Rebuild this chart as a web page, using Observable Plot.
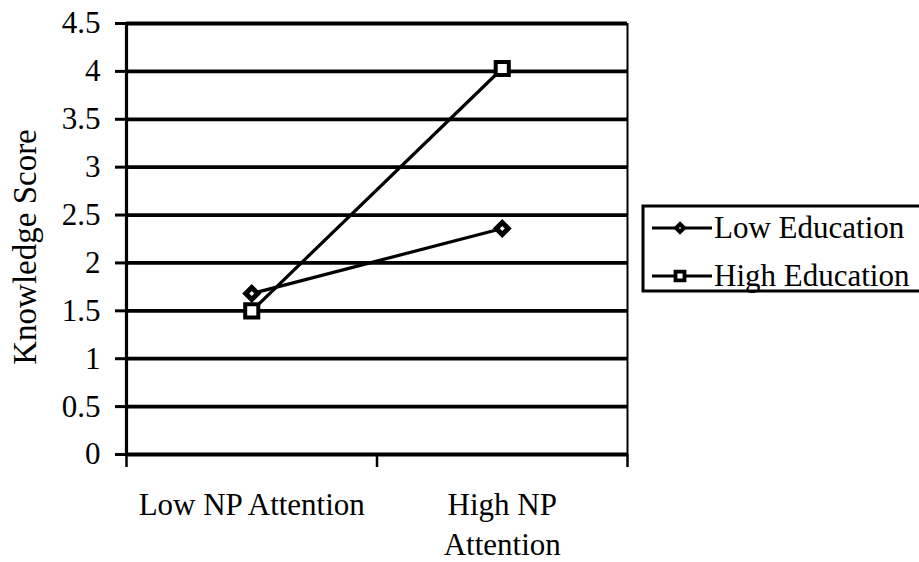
<!DOCTYPE html>
<html>
<head>
<meta charset="utf-8">
<script src="https://cdn.jsdelivr.net/npm/d3@7"></script>
<script src="https://cdn.jsdelivr.net/npm/@observablehq/plot@0.6"></script>
<style>
  html, body { margin: 0; padding: 0; background: white; overflow: hidden; }
  #wrap { position: relative; width: 919px; height: 562px; }
  #legend { position: absolute; left: 0; top: 0; }
</style>
</head>
<body>
<div id="wrap"></div>
<script>
// Knowledge score by newspaper attention, split by education level
const categories = ["Low NP Attention", "High NP Attention"];
const xTickLabels = ["Low NP Attention", "High NP\nAttention"];
const seriesNames = ["Low Education", "High Education"];
const lowEducation = [1.68, 2.36];
const highEducation = [1.50, 4.03];
const yTicks = [0, 0.5, 1, 1.5, 2, 2.5, 3, 3.5, 4, 4.5];

const FONT = "'Liberation Serif', 'Times New Roman', serif";
const FS = 31;

// Categories sit at the centres of two equal slots on a [0, 2] axis
const toRows = (values, name) =>
  values.map((v, i) => ({category: categories[i], pos: i + 0.5, score: v, series: name}));
const lowRows = toRows(lowEducation, seriesNames[0]);
const highRows = toRows(highEducation, seriesNames[1]);
const rows = [...lowRows, ...highRows];

const chart = Plot.plot({
  width: 919,
  height: 562,
  marginLeft: 126,
  marginRight: 292,
  marginTop: 23,
  marginBottom: 108,
  x: {domain: [0, 2]},
  y: {domain: [0, 4.5]},
  style: {fontFamily: FONT, fontSize: FS + "px", color: "black", background: "white"},
  marks: [
    Plot.ruleY(yTicks, {stroke: "black", strokeWidth: 3.8}),
    Plot.ruleX([0], {stroke: "black", strokeWidth: 3.2}),
    Plot.ruleX([2], {stroke: "black", strokeWidth: 2}),
    Plot.axisY({ticks: yTicks, tickSize: 11, tickPadding: 15, strokeWidth: 3,
                tickFormat: d => String(d), label: null, fontSize: FS}),
    Plot.axisX({ticks: [0, 1, 2], tickSize: 13, strokeWidth: 2.5,
                tickFormat: () => "", label: null}),
    Plot.axisX({ticks: [0.5, 1.5], tickSize: 0, tickPadding: 32, lineHeight: 1.29,
                tickFormat: d => xTickLabels[Math.floor(d)], label: null, fontSize: FS}),
    Plot.line(rows, {x: "pos", y: "score", z: "series", stroke: "black", strokeWidth: 3.2}),
    Plot.dot(lowRows, {x: "pos", y: "score", symbol: "diamond2", r: 5.4,
                       fill: "white", stroke: "black", strokeWidth: 5}),
    Plot.dot(highRows, {x: "pos", y: "score", symbol: "square", r: 7.4,
                        fill: "white", stroke: "black", strokeWidth: 4}),
    Plot.text(["Knowledge Score"], {frameAnchor: "left", textAnchor: "middle", rotate: -90,
                                    dx: -101, dy: 8, fontSize: 33, fill: "black"})
  ]
});

const wrap = document.getElementById("wrap");
wrap.appendChild(chart);

// Boxed legend to the right of the plot
const legend = d3.create("svg")
  .attr("id", "legend")
  .attr("width", 919)
  .attr("height", 562)
  .style("pointer-events", "none");
legend.append("rect")
  .attr("x", 643).attr("y", 206)
  .attr("width", 290).attr("height", 85)
  .attr("fill", "white").attr("stroke", "black").attr("stroke-width", 3);

const legendSymbols = [d3.symbolDiamond2, d3.symbolSquare];
const legendSizes = [40, 80];
const legendStroke = [4, 3.8];
seriesNames.forEach((name, i) => {
  const y = 228 + i * 48;
  const g = legend.append("g");
  g.append("line")
    .attr("x1", 652).attr("x2", 712).attr("y1", y).attr("y2", y)
    .attr("stroke", "black").attr("stroke-width", 3);
  g.append("path")
    .attr("transform", `translate(680,${y})`)
    .attr("d", d3.symbol(legendSymbols[i], legendSizes[i])())
    .attr("fill", "white").attr("stroke", "black").attr("stroke-width", legendStroke[i]);
  g.append("text")
    .attr("x", 714).attr("y", y + 10)
    .attr("font-family", FONT).attr("font-size", FS)
    .attr("fill", "black")
    .text(name);
});
wrap.appendChild(legend.node());
</script>
</body>
</html>
